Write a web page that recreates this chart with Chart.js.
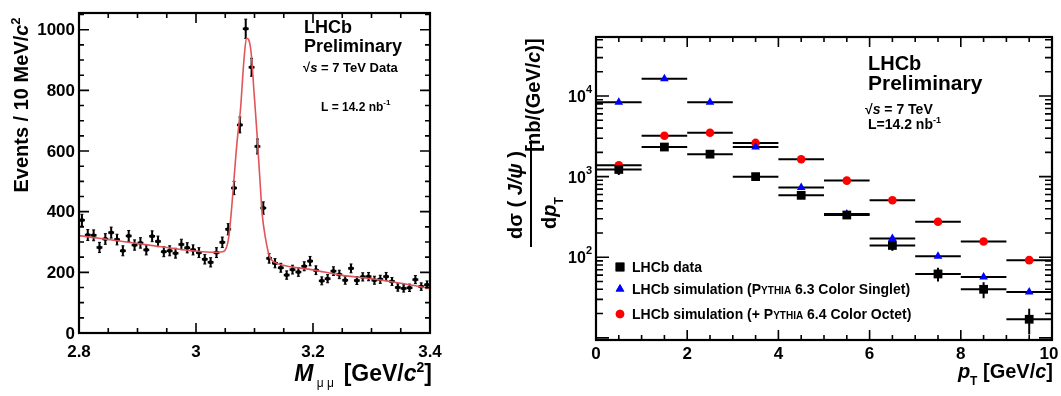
<!DOCTYPE html>
<html lang="en">
<head>
<meta charset="UTF-8">
<script src="https://cdn.jsdelivr.net/npm/chart.js"></script>
<title>LHCb J/psi</title>
<style>
body { margin: 0; background: #fff; width: 1061px; height: 396px; overflow: hidden; position: relative; }
#massChart { position: absolute; left: 0; top: 0; }
#ptChart { position: absolute; left: 480px; top: 0; }
</style>
</head>
<body>
<canvas id="massChart" width="470" height="396"></canvas>
<canvas id="ptChart" width="581" height="396"></canvas>
<script>
// left: dimuon mass, 10 MeV bins
var massBins = [2.805, 2.815, 2.825, 2.835, 2.845, 2.855, 2.865, 2.875, 2.885, 2.895,
	2.905, 2.915, 2.925, 2.935, 2.945, 2.955, 2.965, 2.975, 2.985, 2.995,
	3.005, 3.015, 3.025, 3.035, 3.045, 3.055, 3.065, 3.075, 3.085, 3.095,
	3.105, 3.115, 3.125, 3.135, 3.145, 3.155, 3.165, 3.175, 3.185, 3.195,
	3.205, 3.215, 3.225, 3.235, 3.245, 3.255, 3.265, 3.275, 3.285, 3.295,
	3.305, 3.315, 3.325, 3.335, 3.345, 3.355, 3.365, 3.375, 3.385, 3.395];
var massCounts = [372, 323, 322, 282, 310, 331, 308, 271, 320, 290,
	297, 274, 319, 302, 268, 271, 263, 292, 281, 274,
	265, 243, 233, 265, 299, 342, 478, 686, 1003, 876,
	615, 412, 246, 230, 215, 191, 209, 201, 220, 237,
	207, 172, 179, 204, 193, 174, 213, 173, 185, 186,
	174, 177, 186, 170, 150, 147, 149, 176, 153, 159];
// fitted curve
var fitMass = [2.80, 2.85, 2.90, 2.95, 3.00, 3.03, 3.045, 3.0543, 3.058, 3.0635, 3.070, 3.076, 3.082, 3.0863, 3.090,
	3.0943, 3.0989, 3.1046, 3.110, 3.113, 3.119, 3.1257, 3.136, 3.153, 3.20, 3.25, 3.30, 3.35, 3.40];
var fitEvents = [321, 308, 295, 282, 270, 266, 268, 297, 350, 472, 627, 736, 901, 972, 967,
	923, 802, 648, 483, 395, 310, 252, 232, 222, 208, 190, 179, 164, 147];
var massTicks = [2.8, 3.0, 3.2, 3.4];
var massTickLabels = ['2.8', '3', '3.2', '3.4'];
var eventTicks = [0, 200, 400, 600, 800, 1000];

// right: differential cross-section vs pT
var ptBins = [0.5, 1.5, 2.5, 3.5, 4.5, 5.5, 6.5, 7.5, 8.5, 9.5];
var lhcbData = [1227, 2330, 1900, 1000, 586, 334, 140, 62, 40, 17];
var lhcbErr = [180, 250, 200, 110, 60, 35, 20, 12, 9, 6];
var singlet = [8400, 16400, 8400, 2330, 735, 345, 171, 103, 57, 37];
var octet = [1380, 3210, 3500, 2620, 1640, 893, 509, 275, 157, 92];
var ptTicks = [0, 2, 4, 6, 8, 10];
var xsTicks = [100, 1000, 10000];
var xsTickExp = ['2', '3', '4'];

var FAM = '"Liberation Sans", Arial, sans-serif';
function B(s) { return 'bold ' + s + 'px ' + FAM; }
function BI(s) { return 'italic bold ' + s + 'px ' + FAM; }
function R(s) { return s + 'px ' + FAM; }

// draw a run of text pieces with own font / vertical shift
function runs(ctx, parts, x, y, align) {
	var w = 0;
	parts.forEach(function(p) { ctx.font = p.f; w += ctx.measureText(p.t).width; });
	var cx = align === 'right' ? x - w : (align === 'center' ? x - w / 2 : x);
	ctx.textAlign = 'left';
	ctx.textBaseline = 'alphabetic';
	parts.forEach(function(p) {
		ctx.font = p.f;
		ctx.fillText(p.t, cx, y + (p.dy || 0));
		cx += ctx.measureText(p.t).width;
	});
}

function rotated(ctx, parts, x, y) {
	ctx.save();
	ctx.translate(x, y);
	ctx.rotate(-Math.PI / 2);
	runs(ctx, parts, 0, 0, 'center');
	ctx.restore();
}

// ROOT style frame with inner ticks on all four sides
function rootFrame(o) {
	return {
		id: 'rootFrame',
		afterDraw: function(chart) {
			var ctx = chart.ctx, a = chart.chartArea, xs = chart.scales.x, ys = chart.scales.y;
			ctx.save();
			ctx.strokeStyle = '#000';
			ctx.lineWidth = 1.6;
			ctx.beginPath();
			o.xMinor.forEach(function(v) {
				var p = xs.getPixelForValue(v);
				ctx.moveTo(p, a.bottom); ctx.lineTo(p, a.bottom - o.xMinLen);
				ctx.moveTo(p, a.top); ctx.lineTo(p, a.top + o.xMinLen);
			});
			o.xMajor.forEach(function(v) {
				var p = xs.getPixelForValue(v);
				ctx.moveTo(p, a.bottom); ctx.lineTo(p, a.bottom - o.xMajLen);
				ctx.moveTo(p, a.top); ctx.lineTo(p, a.top + o.xMajLen);
			});
			o.yMinor.forEach(function(v) {
				var p = ys.getPixelForValue(v);
				ctx.moveTo(a.left, p); ctx.lineTo(a.left + o.yMinLen, p);
				ctx.moveTo(a.right, p); ctx.lineTo(a.right - o.yMinLen, p);
			});
			o.yMajor.forEach(function(v) {
				var p = ys.getPixelForValue(v);
				ctx.moveTo(a.left, p); ctx.lineTo(a.left + o.yMajLen, p);
				ctx.moveTo(a.right, p); ctx.lineTo(a.right - o.yMajLen, p);
			});
			ctx.stroke();
			ctx.lineWidth = 2.2;
			ctx.strokeRect(a.left, a.top, a.right - a.left, a.bottom - a.top);
			ctx.fillStyle = '#000';
			o.labels(ctx, xs, ys, a);
			ctx.restore();
		}
	};
}

// error bars taken from dataset.xErr / dataset.yErr
var errorBars = {
	id: 'errorBars',
	beforeDatasetsDraw: function(chart) {
		var ctx = chart.ctx, xs = chart.scales.x, ys = chart.scales.y;
		ctx.save();
		ctx.strokeStyle = '#000';
		chart.data.datasets.forEach(function(ds) {
			if (!ds.xErr && !ds.yErr) return;
			ds.data.forEach(function(pt, i) {
				var px = xs.getPixelForValue(pt.x), py = ys.getPixelForValue(pt.y);
				if (ds.xErr) {
					ctx.lineWidth = ds.xErrWidth || 2;
					ctx.beginPath();
					ctx.moveTo(xs.getPixelForValue(pt.x - ds.xErr[i]), py);
					ctx.lineTo(xs.getPixelForValue(pt.x + ds.xErr[i]), py);
					ctx.stroke();
				}
				if (ds.yErr) {
					var t = ys.getPixelForValue(pt.y + ds.yErr[i]);
					var b = ys.getPixelForValue(Math.max(pt.y - ds.yErr[i], 1e-3));
					ctx.lineWidth = 2;
					ctx.beginPath();
					ctx.moveTo(px, t); ctx.lineTo(px, b);
					ctx.stroke();
					if (ds.caps) {
						ctx.lineWidth = 1;
						ctx.beginPath();
						ctx.moveTo(px - 1.5, t); ctx.lineTo(px + 1.5, t);
						ctx.moveTo(px - 1.5, b); ctx.lineTo(px + 1.5, b);
						ctx.stroke();
					}
				}
			});
		});
		ctx.restore();
	}
};

function minorList(from, to, step) {
	var out = [];
	for (var v = from; v <= to + 1e-9; v += step) out.push(+v.toFixed(6));
	return out;
}

// ---------- left chart ----------
var massPoints = massBins.map(function(m, i) { return { x: m, y: massCounts[i] }; });
var fitPoints = fitMass.map(function(m, i) { return { x: m, y: fitEvents[i] }; });

new Chart(document.getElementById('massChart').getContext('2d'), {
	type: 'scatter',
	data: {
		datasets: [{
			data: fitPoints,
			showLine: true,
			borderColor: '#e0555a',
			borderWidth: 1.6,
			pointRadius: 0,
			cubicInterpolationMode: 'monotone'
		}, {
			data: massPoints,
			pointStyle: 'rect',
			pointRadius: 2.4,
			backgroundColor: '#000',
			borderColor: '#000',
			borderWidth: 0,
			xErr: massBins.map(function() { return 0.005; }),
			xErrWidth: 2.5,
			yErr: massCounts.map(function(n) { return Math.sqrt(n); }),
			caps: true
		}]
	},
	options: {
		responsive: false,
		devicePixelRatio: 1,
		animation: false,
		layout: { padding: { left: 79, right: 40, top: 13, bottom: 63 } },
		plugins: { legend: { display: false }, tooltip: { enabled: false } },
		scales: {
			x: { type: 'linear', min: 2.8, max: 3.4, display: false },
			y: { type: 'linear', min: 0, max: 1055, display: false }
		}
	},
	plugins: [errorBars, rootFrame({
		xMajor: massTicks, xMinor: minorList(2.8, 3.4, 0.05), xMajLen: 10, xMinLen: 5,
		yMajor: eventTicks, yMinor: minorList(0, 1050, 50), yMajLen: 10, yMinLen: 5,
		labels: function(ctx, xs, ys, a) {
			ctx.font = B(17);
			ctx.textAlign = 'right';
			ctx.textBaseline = 'middle';
			eventTicks.forEach(function(v) { ctx.fillText(String(v), 75, ys.getPixelForValue(v) + 1); });
			ctx.textAlign = 'center';
			ctx.textBaseline = 'alphabetic';
			massTicks.forEach(function(v, i) { ctx.fillText(massTickLabels[i], xs.getPixelForValue(v), 357); });
			runs(ctx, [{ t: 'M', f: BI(23) }, { t: ' μ μ ', f: R(12), dy: 6 }, { t: ' [GeV/', f: B(23) },
				{ t: 'c', f: BI(23) }, { t: '2', f: B(14), dy: -9 }, { t: ']', f: B(23) }], 432, 381, 'right');
			rotated(ctx, [{ t: 'Events / 10 MeV/', f: B(20) }, { t: 'c', f: BI(20) }, { t: '2', f: B(13), dy: -8 }], 28, 105);
			runs(ctx, [{ t: 'LHCb', f: B(18) }], 304, 33);
			runs(ctx, [{ t: 'Preliminary', f: B(18) }], 304, 52);
			runs(ctx, [{ t: '√', f: B(13) }, { t: 's', f: BI(13) }, { t: ' = 7 TeV Data', f: B(13) }], 303, 72);
			runs(ctx, [{ t: 'L = 14.2 nb', f: B(12) }, { t: '-1', f: B(8), dy: -6 }], 321, 111);
		}
	})]
});

// ---------- right chart ----------
function pts(vals) { return ptBins.map(function(p, i) { return { x: p, y: vals[i] }; }); }
var halfBin = ptBins.map(function() { return 0.5; });
var logMinor = [];
[10, 100, 1000, 10000].forEach(function(d) {
	for (var m = 2; m <= 9; m++) if (m * d < 54000) logMinor.push(m * d);
});

new Chart(document.getElementById('ptChart').getContext('2d'), {
	type: 'scatter',
	data: {
		datasets: [{
			label: 'LHCb data',
			data: pts(lhcbData),
			pointStyle: 'rect',
			pointRadius: 6.2,
			backgroundColor: '#000',
			borderWidth: 0,
			xErr: halfBin,
			yErr: lhcbErr
		}, {
			label: 'singlet',
			data: pts(singlet),
			pointStyle: 'triangle',
			pointRadius: 5,
			backgroundColor: '#0000ff',
			borderWidth: 0,
			xErr: halfBin
		}, {
			label: 'octet',
			data: pts(octet),
			pointStyle: 'circle',
			pointRadius: 4.3,
			backgroundColor: '#ff0000',
			borderWidth: 0,
			xErr: halfBin
		}]
	},
	options: {
		responsive: false,
		devicePixelRatio: 1,
		animation: false,
		layout: { padding: { left: 116, right: 9, top: 37, bottom: 56 } },
		plugins: { legend: { display: false }, tooltip: { enabled: false } },
		scales: {
			x: { type: 'linear', min: 0, max: 10, display: false },
			y: { type: 'logarithmic', min: 9.4, max: 54000, display: false }
		}
	},
	plugins: [errorBars, rootFrame({
		xMajor: ptTicks, xMinor: minorList(0, 10, 0.5), xMajLen: 10, xMinLen: 5,
		yMajor: [10].concat(xsTicks), yMinor: logMinor, yMajLen: 13, yMinLen: 7,
		labels: function(ctx, xs, ys, a) {
			xsTicks.forEach(function(v, i) {
				runs(ctx, [{ t: '10', f: B(16) }, { t: xsTickExp[i], f: B(11), dy: -9 }], 112, ys.getPixelForValue(v) + 6, 'right');
			});
			ctx.font = B(17);
			ctx.textAlign = 'center';
			ptTicks.forEach(function(v) {
				var p = xs.getPixelForValue(v);
				ctx.fillText(String(v), Math.min(p, 569), 359);
			});
			runs(ctx, [{ t: 'p', f: BI(20) }, { t: 'T', f: B(12), dy: 7 }, { t: ' [GeV/', f: B(20) },
				{ t: 'c', f: BI(20) }, { t: ']', f: B(20) }], 573, 378, 'right');
			// y title: fraction + units
			rotated(ctx, [{ t: '[nb/(GeV/', f: B(20) }, { t: 'c', f: BI(20) }, { t: ')]', f: B(20) }], 60, 95);
			rotated(ctx, [{ t: 'dσ ( ', f: B(20) }, { t: 'J/ψ', f: BI(20) }, { t: ' )', f: B(20) }], 42, 195);
			ctx.lineWidth = 2;
			ctx.beginPath(); ctx.moveTo(51, 142); ctx.lineTo(51, 247); ctx.stroke();
			rotated(ctx, [{ t: 'd', f: B(20) }, { t: 'p', f: BI(20) }, { t: 'T', f: B(12), dy: 7 }], 76, 213);
			// labels
			runs(ctx, [{ t: 'LHCb', f: B(20) }], 388, 70);
			runs(ctx, [{ t: 'Preliminary', f: B(21) }], 388, 90);
			runs(ctx, [{ t: '√', f: B(14) }, { t: 's', f: BI(14) }, { t: ' = 7 TeV', f: B(14) }], 385, 114);
			runs(ctx, [{ t: 'L=14.2 nb', f: B(14) }, { t: '-1', f: B(9), dy: -6 }], 388, 129);
			// legend
			var rows = [
				{ y: 267, style: 'rect', r: 6.2, c: '#000', parts: [{ t: 'LHCb data', f: B(14) }] },
				{ y: 289, style: 'triangle', r: 5, c: '#0000ff', parts: [{ t: 'LHCb simulation (P', f: B(14) }, { t: 'YTHIA', f: B(10) }, { t: ' 6.3 Color Singlet)', f: B(14) }] },
				{ y: 314, style: 'circle', r: 4.3, c: '#ff0000', parts: [{ t: 'LHCb simulation (+ P', f: B(14) }, { t: 'YTHIA', f: B(10) }, { t: ' 6.4 Color Octet)', f: B(14) }] }
			];
			rows.forEach(function(row) {
				ctx.fillStyle = row.c;
				Chart.helpers.drawPoint(ctx, { pointStyle: row.style, radius: row.r, borderWidth: 0, rotation: 0 }, 140, row.y);
				ctx.fill();
				ctx.fillStyle = '#000';
				runs(ctx, row.parts, 152, row.y + 5);
			});
		}
	})]
});
</script>
</body>
</html>
